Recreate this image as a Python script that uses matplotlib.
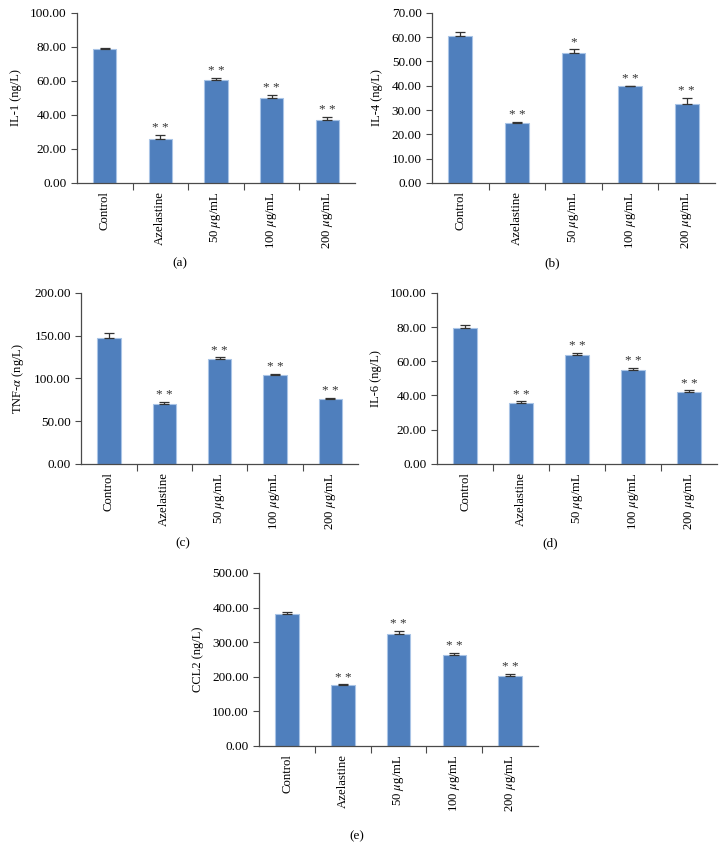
import matplotlib.pyplot as plt
from matplotlib.ticker import FormatStrFormatter, FixedLocator

plt.rcParams['font.family'] = ['Liberation Serif', 'DejaVu Serif']
plt.rcParams['mathtext.fontset'] = 'stix'

grupos = ['Control', 'Azelastine', r'50 $\mu$g/mL', r'100 $\mu$g/mL', r'200 $\mu$g/mL']

il1 = [78.5, 26.0, 60.5, 50.0, 37.0]
il1_err = [1.0, 2.0, 1.5, 2.0, 2.0]
il1_sig = ['', '**', '**', '**', '**']

il4 = [60.5, 24.8, 53.5, 39.8, 32.5]
il4_err = [1.5, 0.4, 1.5, 0.3, 2.5]
il4_sig = ['', '**', '*', '**', '**']

tnf = [147.0, 70.0, 123.0, 104.0, 76.0]
tnf_err = [6.0, 2.0, 1.5, 0.8, 1.5]
tnf_sig = ['', '**', '**', '**', '**']

il6 = [79.5, 35.5, 63.5, 55.0, 42.0]
il6_err = [2.0, 1.0, 1.5, 1.0, 1.0]
il6_sig = ['', '**', '**', '**', '**']

ccl2 = [382.0, 175.0, 324.0, 262.0, 201.0]
ccl2_err = [4.0, 3.0, 9.0, 6.0, 6.0]
ccl2_sig = ['', '**', '**', '**', '**']

paineis = [
    # valores, erros, sig, ylabel, ymax, passo, posicao [l, b, w, h], letra, pos letra
    (il1, il1_err, il1_sig, 'IL-1 (ng/L)', 100, 20, [0.106, 0.787, 0.383, 0.198], '(a)', (0.248, 0.693)),
    (il4, il4_err, il4_sig, 'IL-4 (ng/L)', 70, 10, [0.595, 0.787, 0.390, 0.198], '(b)', (0.760, 0.693)),
    (tnf, tnf_err, tnf_sig, r'TNF-$\alpha$ (ng/L)', 200, 50, [0.112, 0.460, 0.381, 0.199], '(c)', (0.252, 0.368)),
    (il6, il6_err, il6_sig, 'IL-6 (ng/L)', 100, 20, [0.602, 0.460, 0.386, 0.199], '(d)', (0.758, 0.368)),
    (ccl2, ccl2_err, ccl2_sig, 'CCL2 (ng/L)', 500, 100, [0.357, 0.1316, 0.384, 0.2014], '(e)', (0.492, 0.026)),
]

cor_barra = '#4f7fbd'
cor_eixo = '#4a4a4a'

fig = plt.figure(figsize=(7.26, 8.59), dpi=100)

for valores, erros, sig, ylabel, ymax, passo, pos, letra, pos_letra in paineis:
    ax = fig.add_axes(pos)
    x = list(range(len(grupos)))
    ax.bar(x, valores, width=0.42, color=cor_barra, edgecolor='#a9c4e6', linewidth=0.8, zorder=2)
    ax.errorbar(x, valores, yerr=[[0] * len(erros), erros], fmt='none',
                ecolor='#333333', elinewidth=0.9, capsize=3.5, capthick=0.9, zorder=3)
    for xi, v, e, s in zip(x, valores, erros, sig):
        if s:
            ax.text(xi, v + e + ymax * 0.005, ' '.join(s), ha='center', va='bottom',
                    fontsize=9.5, color='#333333')
    ax.set_xlim(-0.5, 4.5)
    ax.set_ylim(0, ymax)
    ax.set_yticks([passo * i for i in range(int(ymax / passo) + 1)])
    ax.yaxis.set_major_formatter(FormatStrFormatter('%.2f'))
    ax.set_ylabel(ylabel, fontsize=9, labelpad=6)
    ax.xaxis.set_major_locator(FixedLocator([0.5, 1.5, 2.5, 3.5]))
    ax.set_xticklabels([])
    ax.xaxis.set_minor_locator(FixedLocator(x))
    ax.set_xticklabels(grupos, minor=True, rotation=90, fontsize=9.2)
    ax.tick_params(axis='x', which='minor', length=0, pad=6)
    ax.tick_params(axis='x', which='major', length=5, color=cor_eixo, direction='out')
    ax.tick_params(axis='y', length=4, color=cor_eixo, labelsize=9.5, direction='out')
    for lado in ['top', 'right']:
        ax.spines[lado].set_visible(False)
    for lado in ['left', 'bottom']:
        ax.spines[lado].set_color(cor_eixo)
        ax.spines[lado].set_linewidth(0.9)
    fig.text(pos_letra[0], pos_letra[1], letra, ha='center', va='center', fontsize=9.5)

plt.savefig('out.png', dpi=100)
